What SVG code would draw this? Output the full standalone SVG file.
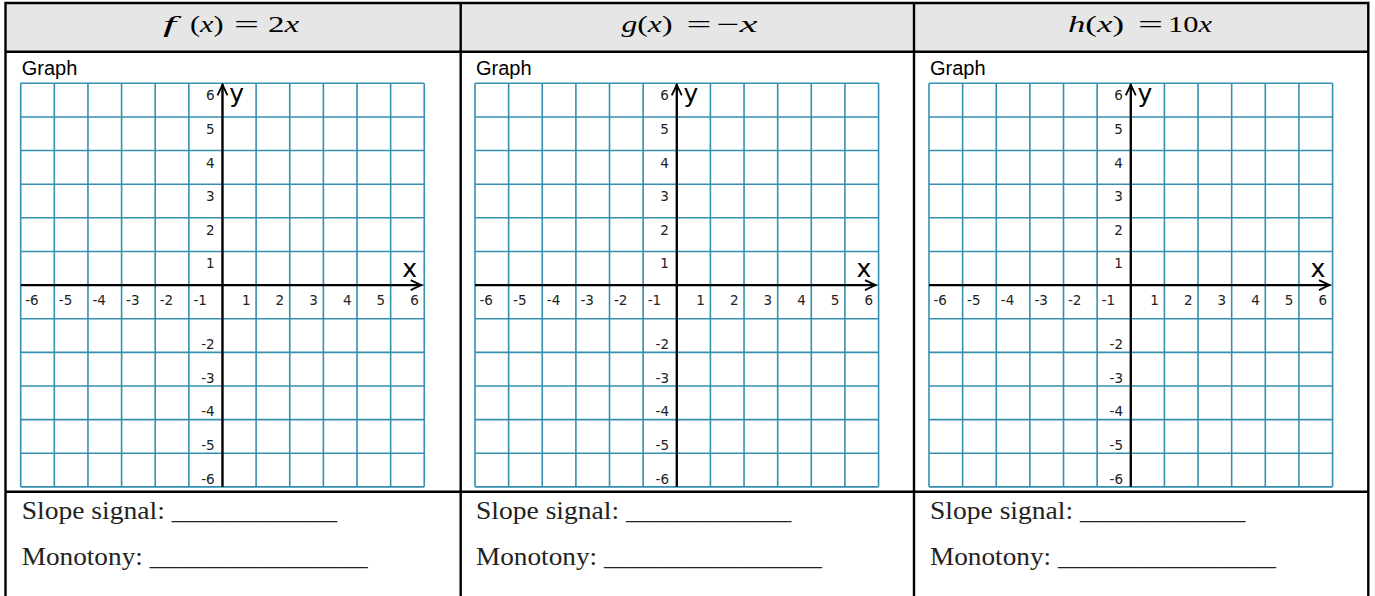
<svg xmlns="http://www.w3.org/2000/svg" xmlns:xlink="http://www.w3.org/1999/xlink" width="1375" height="596" viewBox="0 0 1375 596">
<style>
.tbl{stroke:#000;stroke-width:2.4;fill:none}
.hdr{fill:#e6e6e6}
.math{font-family:"Liberation Serif",serif;font-size:23px;fill:#000}
.it{font-style:italic}
.gl{font-family:"Liberation Sans",Arial,sans-serif;font-size:20px;fill:#000}
.grid{stroke:#3590b0;stroke-width:1.6;fill:none}
.axis{stroke:#000;stroke-width:2.3;fill:none}
.lbl{font-family:"DejaVu Sans",sans-serif;font-size:13.5px;fill:#222}
.end{text-anchor:end}
.ax{font-family:"DejaVu Sans",sans-serif;font-size:25px;fill:#000}
.bt{font-family:"Liberation Serif",serif;font-size:25px;fill:#222}
</style>
<defs>
<marker id="arr" viewBox="-12 -6 13 12" refX="0" refY="0" markerWidth="13" markerHeight="12" markerUnits="userSpaceOnUse" orient="auto">
<path d="M-11,-5 L-0.5,0 L-11,5" fill="none" stroke="#000" stroke-width="1.8"/>
</marker>
<path id="grid" class="grid" d="M0 0V403.56M33.63 0V403.56M67.26 0V403.56M100.89 0V403.56M134.52 0V403.56M168.15 0V403.56M201.78 0V403.56M235.41 0V403.56M269.04 0V403.56M302.67 0V403.56M336.3 0V403.56M369.93 0V403.56M403.56 0V403.56M0 0H403.56M0 33.63H403.56M0 67.26H403.56M0 100.89H403.56M0 134.52H403.56M0 168.15H403.56M0 201.78H403.56M0 235.41H403.56M0 269.04H403.56M0 302.67H403.56M0 336.3H403.56M0 369.93H403.56M0 403.56H403.56"/>
</defs>
<rect x="0" y="0" width="1375" height="596" fill="#fff"/>
<rect class="hdr" x="6" y="3" width="1362" height="48.7"/>
<g id="table-lines">
<path class="tbl" d="M5.5 3H1368.3M5.5 51.7H1368.3M5.5 491.7H1368.3M5.5 1.8V600M460.7 1.8V600M914 1.8V600M1368.3 1.8V600"/>
</g>
<g id="col-f">
<text class="math it" x="163" y="32" textLength="13" lengthAdjust="spacingAndGlyphs">f</text>
<text class="math" x="190" y="32" textLength="33.5" lengthAdjust="spacingAndGlyphs">(<tspan class="it">x</tspan>)</text>
<text class="math" x="234" y="32" textLength="25" lengthAdjust="spacingAndGlyphs">=</text>
<text class="math" x="268" y="32" textLength="31" lengthAdjust="spacingAndGlyphs">2<tspan class="it">x</tspan></text>
<text class="gl" x="21.7" y="75">Graph</text>
<g transform="translate(20.7,83.3)">
<use xlink:href="#grid"/>
<path class="axis" d="M0 201.78H401" marker-end="url(#arr)"/>
<path class="axis" d="M201.78 403.56V1" marker-end="url(#arr)"/>
<text class="ax" x="208.5" y="18.5">y</text>
<text class="ax" x="381.5" y="193.5">x</text>
<text class="lbl end" x="193.8" y="17">6</text><text class="lbl end" x="193.8" y="50.6">5</text><text class="lbl end" x="193.8" y="84.3">4</text><text class="lbl end" x="193.8" y="117.9">3</text><text class="lbl end" x="193.8" y="151.5">2</text><text class="lbl end" x="193.8" y="185.2">1</text>
<text class="lbl end" x="194" y="265.7">-2</text><text class="lbl end" x="194" y="299.4">-3</text><text class="lbl end" x="194" y="333">-4</text><text class="lbl end" x="194" y="366.6">-5</text><text class="lbl end" x="194" y="400.3">-6</text>
<text class="lbl" x="4.5" y="221.7">-6</text><text class="lbl" x="38.1" y="221.7">-5</text><text class="lbl" x="71.8" y="221.7">-4</text><text class="lbl" x="105.4" y="221.7">-3</text><text class="lbl" x="139" y="221.7">-2</text><text class="lbl" x="172.7" y="221.7">-1</text>
<text class="lbl end" x="229.9" y="221.7">1</text><text class="lbl end" x="263.5" y="221.7">2</text><text class="lbl end" x="297.2" y="221.7">3</text><text class="lbl end" x="330.8" y="221.7">4</text><text class="lbl end" x="364.4" y="221.7">5</text><text class="lbl end" x="398.1" y="221.7">6</text>
</g>
<text class="bt" x="21.7" y="519" textLength="315.3" lengthAdjust="spacingAndGlyphs">Slope signal: ____________</text>
<text class="bt" x="21.7" y="565" textLength="346" lengthAdjust="spacingAndGlyphs">Monotony: ________________</text>
</g>
<g id="col-g">
<text class="math" x="621.5" y="32" textLength="51" lengthAdjust="spacingAndGlyphs"><tspan class="it">g</tspan>(<tspan class="it">x</tspan>)</text>
<text class="math" x="686.5" y="32" textLength="25" lengthAdjust="spacingAndGlyphs">=</text>
<text class="math" x="716.5" y="32" textLength="41" lengthAdjust="spacingAndGlyphs">−<tspan class="it">x</tspan></text>
<text class="gl" x="476" y="75">Graph</text>
<g transform="translate(475,83.3)">
<use xlink:href="#grid"/>
<path class="axis" d="M0 201.78H401" marker-end="url(#arr)"/>
<path class="axis" d="M201.78 403.56V1" marker-end="url(#arr)"/>
<text class="ax" x="208.5" y="18.5">y</text>
<text class="ax" x="381.5" y="193.5">x</text>
<text class="lbl end" x="193.8" y="17">6</text><text class="lbl end" x="193.8" y="50.6">5</text><text class="lbl end" x="193.8" y="84.3">4</text><text class="lbl end" x="193.8" y="117.9">3</text><text class="lbl end" x="193.8" y="151.5">2</text><text class="lbl end" x="193.8" y="185.2">1</text>
<text class="lbl end" x="194" y="265.7">-2</text><text class="lbl end" x="194" y="299.4">-3</text><text class="lbl end" x="194" y="333">-4</text><text class="lbl end" x="194" y="366.6">-5</text><text class="lbl end" x="194" y="400.3">-6</text>
<text class="lbl" x="4.5" y="221.7">-6</text><text class="lbl" x="38.1" y="221.7">-5</text><text class="lbl" x="71.8" y="221.7">-4</text><text class="lbl" x="105.4" y="221.7">-3</text><text class="lbl" x="139" y="221.7">-2</text><text class="lbl" x="172.7" y="221.7">-1</text>
<text class="lbl end" x="229.9" y="221.7">1</text><text class="lbl end" x="263.5" y="221.7">2</text><text class="lbl end" x="297.2" y="221.7">3</text><text class="lbl end" x="330.8" y="221.7">4</text><text class="lbl end" x="364.4" y="221.7">5</text><text class="lbl end" x="398.1" y="221.7">6</text>
</g>
<text class="bt" x="476" y="519" textLength="315.3" lengthAdjust="spacingAndGlyphs">Slope signal: ____________</text>
<text class="bt" x="476" y="565" textLength="346" lengthAdjust="spacingAndGlyphs">Monotony: ________________</text>
</g>
<g id="col-h">
<text class="math" x="1068" y="32" textLength="56" lengthAdjust="spacingAndGlyphs"><tspan class="it">h</tspan>(<tspan class="it">x</tspan>)</text>
<text class="math" x="1138" y="32" textLength="25" lengthAdjust="spacingAndGlyphs">=</text>
<text class="math" x="1168" y="32" textLength="44" lengthAdjust="spacingAndGlyphs">10<tspan class="it">x</tspan></text>
<text class="gl" x="930" y="75">Graph</text>
<g transform="translate(929,83.3)">
<use xlink:href="#grid"/>
<path class="axis" d="M0 201.78H401" marker-end="url(#arr)"/>
<path class="axis" d="M201.78 403.56V1" marker-end="url(#arr)"/>
<text class="ax" x="208.5" y="18.5">y</text>
<text class="ax" x="381.5" y="193.5">x</text>
<text class="lbl end" x="193.8" y="17">6</text><text class="lbl end" x="193.8" y="50.6">5</text><text class="lbl end" x="193.8" y="84.3">4</text><text class="lbl end" x="193.8" y="117.9">3</text><text class="lbl end" x="193.8" y="151.5">2</text><text class="lbl end" x="193.8" y="185.2">1</text>
<text class="lbl end" x="194" y="265.7">-2</text><text class="lbl end" x="194" y="299.4">-3</text><text class="lbl end" x="194" y="333">-4</text><text class="lbl end" x="194" y="366.6">-5</text><text class="lbl end" x="194" y="400.3">-6</text>
<text class="lbl" x="4.5" y="221.7">-6</text><text class="lbl" x="38.1" y="221.7">-5</text><text class="lbl" x="71.8" y="221.7">-4</text><text class="lbl" x="105.4" y="221.7">-3</text><text class="lbl" x="139" y="221.7">-2</text><text class="lbl" x="172.7" y="221.7">-1</text>
<text class="lbl end" x="229.9" y="221.7">1</text><text class="lbl end" x="263.5" y="221.7">2</text><text class="lbl end" x="297.2" y="221.7">3</text><text class="lbl end" x="330.8" y="221.7">4</text><text class="lbl end" x="364.4" y="221.7">5</text><text class="lbl end" x="398.1" y="221.7">6</text>
</g>
<text class="bt" x="930" y="519" textLength="315.3" lengthAdjust="spacingAndGlyphs">Slope signal: ____________</text>
<text class="bt" x="930" y="565" textLength="346" lengthAdjust="spacingAndGlyphs">Monotony: ________________</text>
</g>
</svg>
